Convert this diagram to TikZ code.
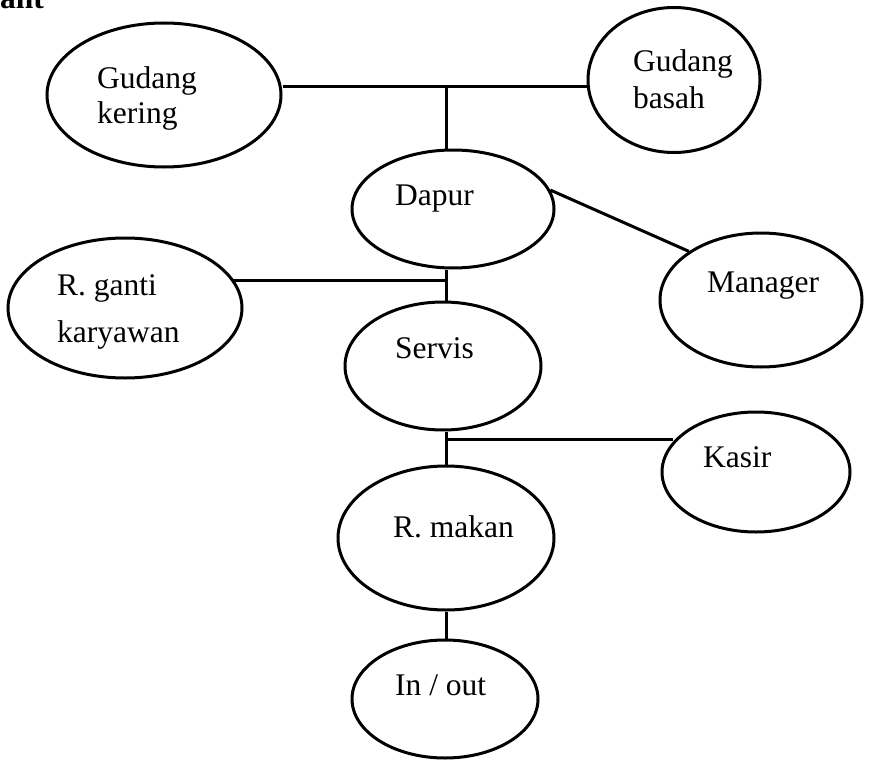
\documentclass[tikz,border=0pt]{standalone}
\usepackage{fontspec}
\setmainfont{Liberation Serif}
\usetikzlibrary{shapes.geometric}
\begin{document}
\begin{tikzpicture}[x=1pt, y=-1pt,
        room/.style={draw, ellipse, line width=3pt, inner sep=0pt},
        tag/.style={anchor=base west, align=left, inner sep=0pt,
            font=\fontsize{31.5}{36}\selectfont},
        link/.style={line width=3pt}]
    \useasboundingbox (0,0) rectangle (873,760);

    % rooms
    \node[room, minimum width=234, minimum height=144] (gk) at (164,95) {};
    \node[room, minimum width=172, minimum height=145] (gb) at (674,80) {};
    \node[room, minimum width=202, minimum height=118] (dapur) at (453,209) {};
    \node[room, minimum width=202, minimum height=134] (manager) at (761,300) {};
    \node[room, minimum width=234, minimum height=140] (rg) at (125,308) {};
    \node[room, minimum width=196, minimum height=128] (servis) at (443,366) {};
    \node[room, minimum width=188, minimum height=120] (kasir) at (756,472) {};
    \node[room, minimum width=216, minimum height=144] (makan) at (446,538) {};
    \node[room, minimum width=186, minimum height=118] (inout) at (445,699) {};

    % names of the rooms (multi-line ones sit on their last line)
    \node[tag, font=\fontsize{31.5}{36}\bfseries] (title) at (0,9) {ant};
    \node[tag, font=\fontsize{31.5}{35}\selectfont] (gk-t) at (97,123) {Gudang\\kering};
    \node[tag, font=\fontsize{31.5}{37}\selectfont] (gb-t) at (633,108) {Gudang\\basah};
    \node[tag] (dapur-t) at (395,205) {Dapur};
    \node[tag] (manager-t) at (707,292) {Manager};
    \node[tag, font=\fontsize{31.5}{47}\selectfont] (rg-t) at (57,342) {R. ganti\\karyawan};
    \node[tag] (servis-t) at (395,358) {Servis};
    \node[tag] (kasir-t) at (703,467) {Kasir};
    \node[tag] (makan-t) at (393,537) {R. makan};
    \node[tag] (inout-t) at (395,695) {In / out};

    % links between rooms
    \coordinate (hubtop) at (446,87);
    \coordinate (hubmid) at (446,280);
    \coordinate (hublow) at (446,439);
    \draw[link] (gk.east |- hubtop) -- (gb.west |- hubtop);
    \draw[link] (hubtop) -- (hubtop |- dapur.north);
    \draw[link] (dapur.11) -- (manager.146);
    \draw[link] (hubmid -| rg.15) -- (hubmid);
    \draw[link] (hubmid |- dapur.south) -- (hubmid |- servis.north);
    \draw[link] (hublow |- servis.south) -- (hublow |- makan.north);
    \draw[link] (hublow) -- (hublow -| kasir.160);
    \draw[link] (makan.south) -- (makan.south |- inout.north);
\end{tikzpicture}
\end{document}
